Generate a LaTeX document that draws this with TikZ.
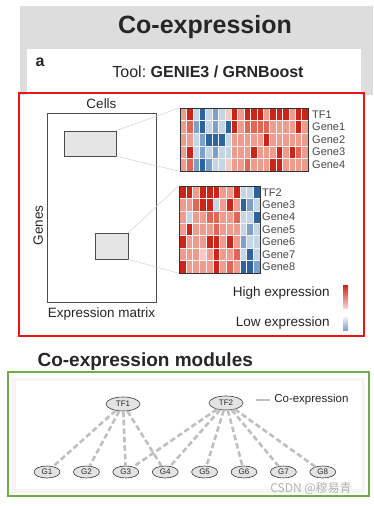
\documentclass[tikz,border=0pt]{standalone}
\usepackage{fontspec}
\setmainfont{Liberation Sans}
\newfontfamily\cjk{Noto Sans CJK SC}
\usetikzlibrary{positioning,shapes.geometric}
\definecolor{h0}{RGB}{45,100,160}
\definecolor{h1}{RGB}{125,160,200}
\definecolor{h2}{RGB}{196,213,230}
\definecolor{h3}{RGB}{243,203,195}
\definecolor{h4}{RGB}{238,156,142}
\definecolor{h5}{RGB}{226,102,86}
\definecolor{h6}{RGB}{204,36,24}
\definecolor{panel}{RGB}{221,221,221}
\definecolor{framered}{RGB}{235,22,22}
\definecolor{framegreen}{RGB}{112,173,71}
\definecolor{ink}{RGB}{38,38,38}

\begin{document}
\begin{tikzpicture}[x=1pt,y=-1pt,
  cell/.style={draw=white!92!gray,line width=0.45pt},
  hmap/.style={draw=gray!40!black,line width=0.6pt,inner sep=0pt},
  zoombox/.style={draw=gray!60!black,fill=gray!20,line width=0.7pt,inner sep=0pt},
  gname/.style={right,inner sep=1.5pt,text=ink!85,font=\fontsize{11}{12}\selectfont},
  lab/.style={text=ink,font=\fontsize{13.5}{15}\selectfont},
  gnode/.style={ellipse,draw=gray!45!black,fill=gray!22,line width=0.6pt,inner sep=0pt,
    minimum width=26pt,minimum height=12pt,text=ink,font=\fontsize{8}{9}\selectfont},
  tfnode/.style={gnode,minimum width=34pt,minimum height=14pt},
  coexp/.style={gray!50,line width=2.6pt,dash pattern=on 5.5pt off 3pt},
  guide/.style={gray!35,line width=0.5pt}]
\useasboundingbox (0,0) rectangle (373,506);

\fill[panel] (20,6) rectangle (373,95);
\fill[white] (27,49) rectangle (361,95);
\node[text=ink,font=\fontsize{25}{28}\selectfont\bfseries] (title) at (205,27) {Co-expression};
\node[text=ink,font=\fontsize{16}{18}\selectfont\bfseries] (panela) at (40,62) {a};
\node[text=ink,font=\fontsize{16}{18}\selectfont] (tool) at (208,72) {Tool:\ \textbf{GENIE3 / GRNBoost}};
\draw[framered,line width=1.5pt] (19,93) rectangle (364,336);

\node[draw=gray!60!black,line width=0.8pt,minimum width=109pt,minimum height=189pt] (mat) at (101.5,207.5) {};
\node[lab,above=0pt of mat] (cells) {Cells};
\node[lab,rotate=90,anchor=south] (genes) at ([yshift=-18pt]mat.west) {Genes};
\node[lab,below=2pt of mat] (matname) {Expression matrix};
\node[zoombox,minimum width=52pt,minimum height=25pt] (box1) at (90,143.5) {};
\node[zoombox,minimum width=33pt,minimum height=26pt] (box2) at (111.5,246) {};

\foreach \row [count=\r from 0] in {
  {4,6,2,0,2,1,2,3,6,4,6,6,6,4,6,6,6,4,6,6},
  {4,5,1,0,2,1,2,0,6,4,5,5,5,5,4,4,4,4,6,4},
  {4,4,2,1,0,0,0,2,4,4,4,4,4,6,4,4,4,4,4,4},
  {4,6,2,1,2,1,2,2,4,4,4,6,4,4,4,6,4,6,5,4},
  {4,5,1,0,1,2,2,3,4,4,5,4,4,4,6,6,4,4,4,4}}
  \foreach \v [count=\c from 0] in \row
    \path[fill=h\v,cell] (180+\c*6.4,108+\r*12.6) rectangle ++(6.4,12.6);
\draw[white,line width=1.2pt] (180,120.6) -- (308,120.6);
\node[hmap,minimum width=128pt,minimum height=63pt] (hm1) at (244,139.5) {};
\foreach \g [count=\r from 0] in {TF1,Gene1,Gene2,Gene3,Gene4}
  \node[gname] (ga\r) at (310.5,114.3+\r*12.6) {\g};

\foreach \row [count=\r from 0] in {
  {6,6,4,6,6,6,4,4,6,2,2,0},
  {4,4,5,6,6,2,4,6,4,0,1,2},
  {4,2,4,4,5,5,4,4,5,2,2,0},
  {4,6,4,4,4,5,4,4,4,2,1,2},
  {6,4,4,4,6,6,4,6,4,1,2,2},
  {4,4,4,3,4,6,4,4,5,2,0,2},
  {6,4,4,4,4,6,4,5,4,0,0,1}}
  \foreach \v [count=\c from 0] in \row
    \path[fill=h\v,cell] (179+\c*6.75,186+\r*12.43) rectangle ++(6.75,12.43);
\draw[white,line width=1.2pt] (179,198.4) -- (260,198.4);
\node[hmap,minimum width=81pt,minimum height=87pt] (hm2) at (219.5,229.5) {};
\foreach \g [count=\r from 0] in {TF2,Gene3,Gene4,Gene5,Gene6,Gene7,Gene8}
  \node[gname] (gb\r) at (260.5,192.2+\r*12.43) {\g};

\draw[guide] (box1.north east) -- (hm1.north west) (box1.south east) -- (hm1.south west);
\draw[guide] (box2.north east) -- (hm2.north west) (box2.south east) -- (hm2.south west);

\node[inner sep=0pt,minimum width=5pt,minimum height=23pt,top color=h6,bottom color=h3!80] (hibar) at (345.5,296.5) {};
\node[inner sep=0pt,minimum width=5pt,minimum height=13pt,top color=h2!40,bottom color=h1] (lobar) at (345.5,324) {};
\node[lab,inner sep=1pt,left=12pt of hibar.west,anchor=east,yshift=3pt] (hi) {High expression};
\node[lab,inner sep=1pt,left=12pt of lobar.west,anchor=east,yshift=1pt] (lo) {Low expression};

\node[text=ink,anchor=west,font=\fontsize{19}{21}\selectfont\bfseries] (modules) at (34,362) {Co-expression modules};
\fill[gray!8] (12,378) rectangle (365,493);
\fill[white] (16,381) rectangle (361,489);
\draw[framegreen,line width=1.5pt] (8,372) rectangle (369,496);

\node[tfnode] (tf1) at (123,404) {TF1};
\node[tfnode] (tf2) at (226,403) {TF2};
\foreach \i in {1,...,8}
  \node[gnode] (g\i) at (47+\i*39.4-39.4,472) {G\i};
\foreach \i in {1,...,4}
  \draw[coexp] (tf1) -- (g\i);
\foreach \i in {3,...,8}
  \draw[coexp] (tf2) -- (g\i);
\coordinate (key) at (256,400);
\draw[coexp,dash pattern=] (key) -- ++(14,0) node[right,inner sep=3pt,text=ink,font=\fontsize{11.5}{13}\selectfont] (keyname) {Co-expression};

\node[text=gray!60,font=\cjk\fontsize{12}{14}\selectfont] (mark) at (311,488) {CSDN @穆易青};
\end{tikzpicture}
\end{document}
